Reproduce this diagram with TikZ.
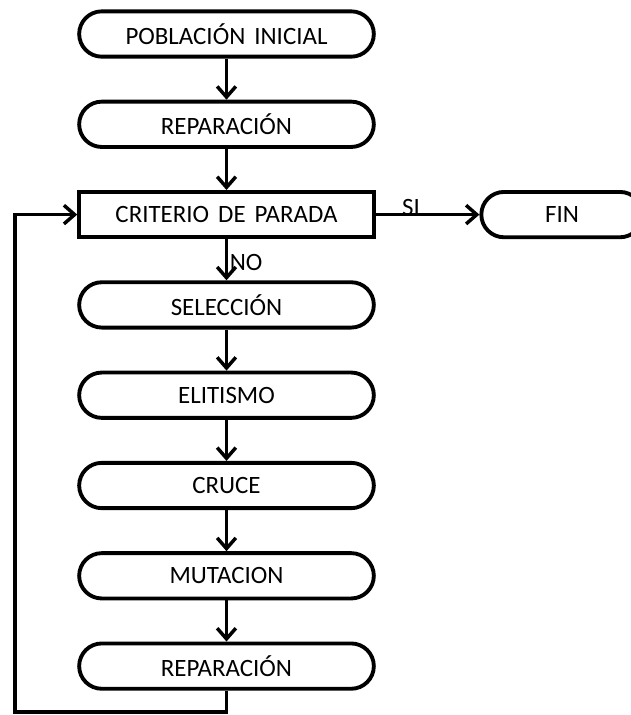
\documentclass[tikz,border=0pt]{standalone}
\usepackage{fontspec}
\setmainfont{Carlito}
\usetikzlibrary{arrows.meta}
\newcommand{\wsp}{\hspace{0.36em}}
\begin{document}
\begin{tikzpicture}[x=0.75pt,y=-0.75pt,
  every node/.style={font=\fontsize{18.7}{22}\selectfont},
  term/.style={draw,line width=2.9pt,rounded corners=17pt,minimum width=221pt,minimum height=34pt,inner sep=0pt,fill=white},
  proc/.style={draw,line width=2.9pt,minimum width=221pt,minimum height=34pt,inner sep=0pt,fill=white},
  flow/.style={line width=2.6pt,line join=miter,-{Straight Barb[length=8pt,width=14pt,line width=2.6pt]}},
  lbl/.style={inner sep=0pt}]
\useasboundingbox (0,0) rectangle (631,715);

% main chain of steps
\node[term] (pob) at (226.5,34) {POBLACIÓN\wsp INICIAL};
\node[term] (rep1) at (226.5,124.3) {REPARACIÓN};
\node[proc] (crit) at (226.5,214.6) {CRITERIO\wsp DE\wsp PARADA};
\node[term] (sel) at (226.5,304.9) {SELECCIÓN};
\node[term] (eli) at (226.5,395.2) {ELITISMO};
\node[term] (cru) at (226.5,485.5) {CRUCE};
\node[term] (mut) at (226.5,575.8) {MUTACION};
\node[term] (rep2) at (226.5,666.1) {REPARACIÓN};
\node[term,minimum width=121pt] (fin) at (562,214.6) {FIN};

% downward connections
\draw[flow] (pob) -- (rep1);
\draw[flow] (rep1) -- (crit);
\draw[flow] (crit) -- (sel);
\draw[flow] (sel) -- (eli);
\draw[flow] (eli) -- (cru);
\draw[flow] (cru) -- (mut);
\draw[flow] (mut) -- (rep2);

% exit to the end
\draw[flow] (crit) -- (fin);
\node[lbl,anchor=south] (si) at (411,216) {SI};
\node[lbl,anchor=west] (no) at (229.5,262) {NO};

% loop back to the stopping test
\coordinate (b2) at (15,712);
\coordinate (b1) at (rep2.south |- b2);
\coordinate (b3) at (b2 |- crit.west);
\draw[flow] (rep2.south) -- (b1) -- (b2) -- (b3) -- (crit.west);
\end{tikzpicture}
\end{document}
